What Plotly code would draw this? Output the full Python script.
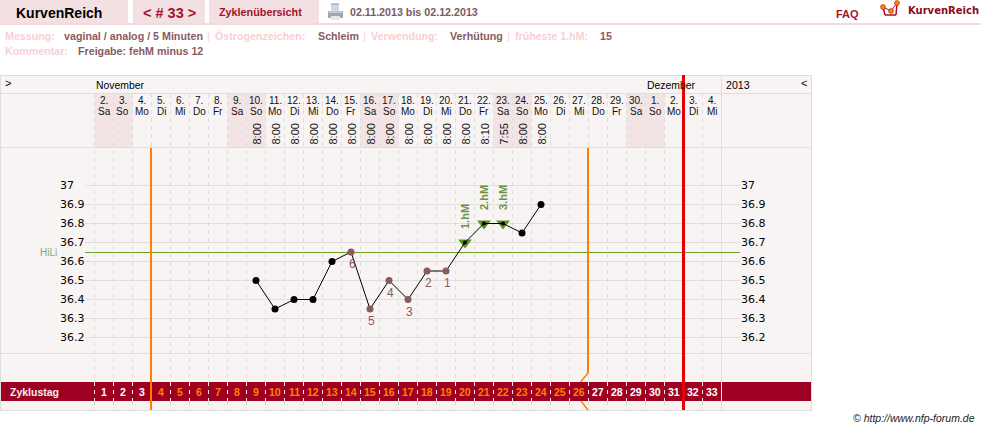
import plotly.graph_objects as go

W, H = 981, 430

# Cycle data
cycle_days = list(range(1, 34))
dates = ["2.", "3.", "4.", "5.", "6.", "7.", "8.", "9.", "10.", "11.", "12.", "13.", "14.", "15.", "16.", "17.",
         "18.", "19.", "20.", "21.", "22.", "23.", "24.", "25.", "26.", "27.", "28.", "29.", "30.", "1.", "2.", "3.", "4."]
weekdays = ["Sa", "So", "Mo", "Di", "Mi", "Do", "Fr", "Sa", "So", "Mo", "Di", "Mi", "Do", "Fr", "Sa", "So",
            "Mo", "Di", "Mi", "Do", "Fr", "Sa", "So", "Mo", "Di", "Mi", "Do", "Fr", "Sa", "So", "Mo", "Di", "Mi"]
measured_days = list(range(9, 25))
temps = [36.5, 36.35, 36.4, 36.4, 36.6, 36.65, 36.35, 36.5, 36.4, 36.55, 36.55, 36.7, 36.8, 36.8, 36.75, 36.9]
times = ["8:00", "8:00", "8:00", "8:00", "8:00", "8:00", "8:00", "8:00", "8:00", "8:00", "8:00", "8:00",
         "8:10", "7:55", "8:00", "8:00"]
low_days = [14, 15, 16, 17, 18, 19]
low_labels = ["6", "5", "4", "3", "2", "1"]
high_days = [20, 21, 22]
high_labels = ["1.hM", "2.hM", "3.hM"]
temp_ticks = [37, 36.9, 36.8, 36.7, 36.6, 36.5, 36.4, 36.3, 36.2]
cover_line = 36.65
fertile_start = 3.474
fertile_end = 26.474
today_day = 31.5

BG = "#f9f4f4"
SHADE = "#f2e3e5"
GRID = "#e0dddd"
WINE = "#9e0022"
ORANGE = "#ff8000"
RED = "#e60000"
GREEN = "#5f9120"
BROWN = "#8a5a60"
TAB = "#f3e0e2"
PALE = "#f8cfd3"
SANS = "Liberation Sans, Arial, sans-serif"


def px(x):
    return x / W


def py(y):
    return 1 - y / H


shapes, notes = [], []


def rect(x0, y0, x1, y1, color, layer="below"):
    shapes.append(dict(type="rect", xref="paper", yref="paper", x0=px(x0), x1=px(x1), y0=py(y0), y1=py(y1),
                       fillcolor=color, line_width=0, layer=layer))


def seg(x0, y0, x1, y1, color, width=1, dash="solid", layer="below"):
    shapes.append(dict(type="line", xref="paper", yref="paper", x0=px(x0), x1=px(x1), y0=py(y0), y1=py(y1),
                       line=dict(color=color, width=width, dash=dash), layer=layer))


def label(x, y, text, size=11, color="#000", family=SANS, anchor="left", bold=False, angle=0, italic=False,
          yref="paper"):
    if bold:
        text = f"<b>{text}</b>"
    if italic:
        text = f"<i>{text}</i>"
    notes.append(dict(x=px(x), y=py(y) if yref == "paper" else y, xref="paper", yref=yref,
                      text=text, showarrow=False, xanchor=anchor, yanchor="middle", textangle=angle,
                      font=dict(size=size, color=color, family=family), borderpad=0, borderwidth=0))


def col_left(day):
    return 94.5 + 19 * (day - 1)


# Page header
for x0, x1 in [(0, 128), (133, 205), (209, 319)]:
    rect(x0, 0, x1, 23, TAB)
rect(0, 23, W, 25, "#f3dadd")
label(16, 12.5, "KurvenReich", 14, "#000", bold=True)
label(143, 12.5, "&lt; # 33 &gt;", 14.5, "#a4122e", bold=True)
label(219, 12, "Zyklenübersicht", 10.8, "#a4122e", bold=True)
label(350, 12, "02.11.2013 bis 02.12.2013", 10.7, "#7c5a60", bold=True)
label(836, 14, "FAQ", 11, "#a4122e", bold=True)
label(908, 10, "KurvenReich", 10, "#8d0a22", bold=True, family="DejaVu Sans")

# Printer icon
rect(331, 4, 339, 12, "#cfd9e2")
seg(331, 4, 339, 4, "#8d969e", 1)
rect(328, 11, 343, 18, "#a2a8ad")
rect(329, 11, 342, 13, "#c4c9cd")
rect(331, 16, 340, 20, "#e3e7ea")

# Small logo mark
seg(883, 7, 885, 15, "#a4122e", 1.5)
seg(885, 15, 896, 15, "#a4122e", 1.5)
seg(896, 15, 897, 3, "#a4122e", 1.5)
seg(883, 7, 891, 11, "#a4122e", 1)
seg(891, 11, 897, 3, "#a4122e", 1)
for cx, cy in [(883, 7), (891, 11), (897, 3)]:
    shapes.append(dict(type="circle", xref="paper", yref="paper", x0=px(cx - 2.5), x1=px(cx + 2.5), y0=py(cy - 2.5),
                       y1=py(cy + 2.5), fillcolor=ORANGE, line=dict(color="#a4122e", width=0.5)))

# Measurement details
label(5, 36, "Messung:", 10.7, PALE, bold=True)
label(64, 36, "vaginal / analog / 5 Minuten", 10.7, BROWN, bold=True)
label(207, 36, "|", 10.7, PALE)
label(215, 36, "Östrogenzeichen:", 10.7, PALE, bold=True)
label(318, 36, "Schleim", 10.7, BROWN, bold=True)
label(363, 36, "|", 10.7, PALE)
label(371, 36, "Verwendung:", 10.7, PALE, bold=True)
label(450, 36, "Verhütung", 10.7, BROWN, bold=True)
label(507, 36, "|", 10.7, PALE)
label(515, 36, "früheste 1.hM:", 10.7, PALE, bold=True)
label(600, 36, "15", 10.7, BROWN, bold=True)
label(5, 51, "Kommentar:", 10.7, PALE, bold=True)
label(78, 51, "Freigabe: fehM minus 12", 10.7, BROWN, bold=True)

# Chart panel
rect(0, 75, 812, 410, BG)
for day, wd in zip(cycle_days, weekdays):
    if wd in ("Sa", "So"):
        rect(col_left(day), 94, col_left(day) + 19, 147, SHADE)
for y in (75.5, 93.5, 147.5, 353.5, 410.5):
    seg(0, y, 812, y, GRID, 1)
for x in (0.5, 721.5, 811.5):
    seg(x, 75, x, 411, GRID, 1)

# Dashed day separators
for day in cycle_days:
    x = col_left(day)
    seg(x, 94, x, 382, GRID, 1, "4px,4px")
    seg(x, 401, x, 410, GRID, 1, "4px,4px")

# Cycle-day band
rect(1, 382, 811, 401, WINE)
for day in cycle_days:
    x = col_left(day)
    seg(x, 382, x, 401, "#f6e6e8", 1, "4px,4px", layer="above")
seg(721.5, 382, 721.5, 401, "#f6e6e8", 1, layer="above")
label(10, 391.5, "Zyklustag", 10.5, "#f8eef0", bold=True)

# Calendar row labels
label(5, 83.5, "&gt;", 11)
label(96, 85, "November", 10.4)
label(647, 85, "Dezember", 10.4)
label(726, 85, "2013", 10.6)
label(801, 83.5, "&lt;", 11)
for day, date, wd in zip(cycle_days, dates, weekdays):
    cx = col_left(day) + 9.5
    label(cx, 100.5, date, 10, "#111", anchor="center")
    label(cx, 111.5, wd, 10, "#111", anchor="center")
    fill = ORANGE if 4 <= day <= 26 else "#ffffff"
    label(cx, 391.5, str(day), 10.5, fill, bold=True, anchor="center")
for day, t in zip(measured_days, times):
    label(col_left(day) + 9.5, 134.5, t, 11, "#111", anchor="center", angle=-90)

# Temperature grid and its labels on both sides
for tick in temp_ticks:
    shapes.append(dict(type="line", xref="paper", yref="y", x0=px(85), x1=px(740), y0=tick, y1=tick,
                       line=dict(color=GRID, width=1), layer="below"))
    label(60, tick, str(tick), 11, "#000", family="DejaVu Sans", yref="y")
    label(741, tick, str(tick), 11, "#000", family="DejaVu Sans", yref="y")

# Cover line, nudged half a pixel so it stays on one pixel row
shapes.append(dict(type="line", xref="paper", yref="y", ysizemode="pixel", yanchor=cover_line, x0=px(85), x1=px(740),
                   y0=-0.5, y1=-0.5, line=dict(color="#6b9e23", width=1), layer="below"))
label(40, cover_line, "HiLi", 10, "#8aa86a", yref="y")

# Fertile-window boundaries and today's marker, placed on the day scale
shapes.append(dict(type="line", xref="x", yref="paper", x0=fertile_start, x1=fertile_start, y0=py(148), y1=py(410),
                   line=dict(color=ORANGE, width=2), layer="above"))
shapes.append(dict(type="line", xref="x", yref="paper", x0=fertile_end, x1=fertile_end, y0=py(148), y1=py(373),
                   line=dict(color=ORANGE, width=2), layer="above"))
seg(588, 373, 580.5, 382, ORANGE, 1.5, layer="above")
seg(581, 401, 588, 410, ORANGE, 1.5, layer="above")
shapes.append(dict(type="line", xref="x", yref="paper", x0=today_day, x1=today_day, y0=py(75), y1=py(410),
                   line=dict(color=RED, width=3), layer="above"))

# Copyright line
label(853, 418, "© http://www.nfp-forum.de", 10.5, "#222", italic=True)

fig = go.Figure()
fig.add_trace(go.Scatter(x=high_days, y=[temps[measured_days.index(d)] for d in high_days], mode="markers",
                         marker=dict(symbol="triangle-down", size=12, color=GREEN, opacity=1, line_width=0),
                         hoverinfo="skip"))
fig.add_trace(go.Scatter(x=measured_days, y=temps, mode="lines+markers", line=dict(color="#000", width=1),
                         marker=dict(color=[BROWN if d in low_days else "#000000" for d in measured_days],
                                     size=[4 if d in high_days else 7 for d in measured_days], opacity=1,
                                     line_width=0),
                         hoverinfo="skip"))

for d, t in zip(low_days, low_labels):
    y_val = temps[measured_days.index(d)]
    notes.append(dict(x=d, y=y_val, xref="x", yref="y", xshift=1, yshift=-12, text=t, showarrow=False,
                      yanchor="middle", font=dict(size=12, color=BROWN, family=SANS)))
for d, t in zip(high_days, high_labels):
    y_val = temps[measured_days.index(d)]
    notes.append(dict(x=d, y=y_val, xref="x", yref="y", yshift=25.5, text=f"<b>{t}</b>", showarrow=False,
                      yanchor="middle", textangle=-90, font=dict(size=11, color="#6a9440", family=SANS)))

fig.update_layout(
    width=W, height=H, autosize=False, margin=dict(l=0, r=0, t=0, b=0),
    paper_bgcolor="white", plot_bgcolor="rgba(0,0,0,0)", showlegend=False,
    shapes=shapes, annotations=notes,
    xaxis=dict(range=[-85 / 19, 896 / 19], visible=False, fixedrange=True),
    yaxis=dict(range=[37 - 244.5 / 190, 37 + 185.5 / 190], visible=False, fixedrange=True),
)
fig.write_html("out.html", config=dict(displayModeBar=False))
